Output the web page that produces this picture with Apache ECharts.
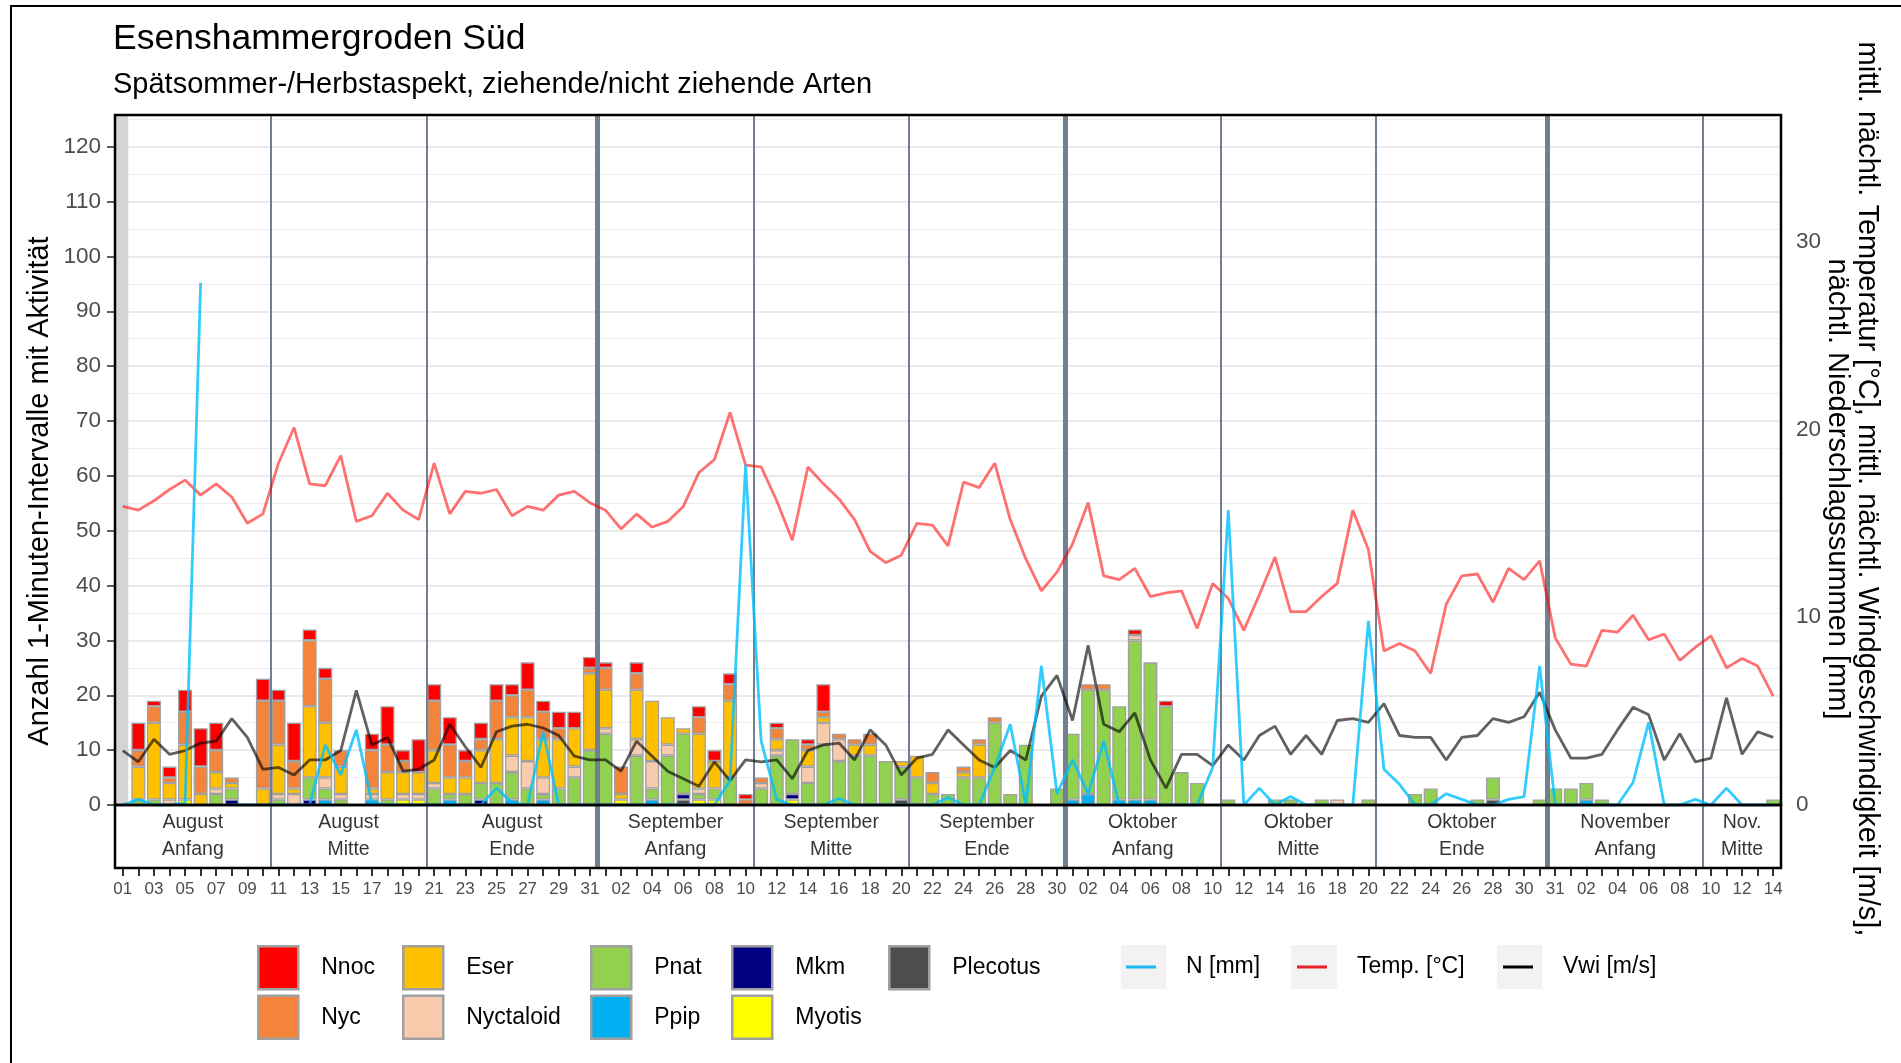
<!DOCTYPE html>
<html>
<head>
<meta charset="utf-8">
<title>Esenshammergroden Süd</title>
<script src="https://cdn.jsdelivr.net/npm/echarts@6/dist/echarts.min.js"></script>
<style>
  html, body { margin: 0; padding: 0; background: #fff; }
  #chart { width: 1901px; height: 1063px; }
</style>
</head>
<body>
<div id="chart"></div>
<script>
// Nights 1 Aug – 15 Nov; after the DST switch the day labels run one day behind
const dayLabels = [
  '01','02','03','04','05','06','07','08','09','10','11','12','13','14','15','16','17','18','19','20','21','22','23','24','25','26','27','28','29','30','31',
  '01','02','03','04','05','06','07','08','09','10','11','12','13','14','15','16','17','18','19','20','21','22','23','24','25','26','27','28','29','30',
  '01','02','03','04','05','06','07','08','09','10','11','12','13','14','15','16','17','18','19','20','21','22','23','24','25','26','27','28','29','30','31',
  '31','01','02','03','04','05','06','07','08','09','10','11','12','13','14'
];

// Ten-day periods shown in the strip under the plot
const periodNames = ['August\nAnfang','August\nMitte','August\nEnde','September\nAnfang','September\nMitte','September\nEnde',
                     'Oktober\nAnfang','Oktober\nMitte','Oktober\nEnde','November\nAnfang','Nov.\nMitte'];
const periodBreaks = [-0.5, 9.5, 19.5, 30.5, 40.5, 50.5, 60.5, 70.5, 80.5, 91.5, 101.5, 106.5];
const monthBreaks = [30.5, 60.5, 91.5];
const recordingStart = 0.35;   // grey block: detector not yet running

// Axis ticks
const countTicksMax = 120;
const weatherTicksMax = 30;

// Activity: number of 1-minute intervals per night and species group
const nnoc = [
  0,5,1,2,4,7,5,0,0,4,
  2,7,2,2,0,0,3,7,2,6,
  3,5,2,3,3,2,5,2,3,3,
  2,1,0,2,0,0,0,2,2,2,
  1,0,1,0,1,5,0,0,0,0,
  0,0,0,0,0,0,0,0,0,0,
  0,0,0,0,0,1,0,1,0,0,
  0,0,0,0,0,0,0,0,0,0,
  0,0,0,0,0,0,0,0,0,0,
  0,0,0,0,0,0,0,0,0,0,
  0,0,0,0,0,0,0];
const nyc = [
  0,3,3,1,6,5,4,1,0,16,
  8,5,12,8,3,0,7,5,2,0,
  9,6,3,2,7,4,5,5,2,0,
  1,4,5,3,0,0,0,3,0,3,
  1,1,2,0,1,1,1,1,2,0,
  0,0,2,0,1,1,1,0,0,0,
  0,0,1,1,0,0,0,0,0,0,
  0,0,0,0,0,0,0,0,0,0,
  0,0,0,0,0,0,0,0,0,0,
  0,0,0,0,0,0,0,0,0,0,
  0,0,0,0,0,0,0];
const eser = [
  0,6,14,3,10,2,3,1,0,3,
  9,1,13,10,5,0,1,5,4,4,
  6,3,3,6,8,7,8,7,9,7,
  14,7,1,9,11,5,1,10,5,14,
  0,0,2,0,3,1,0,2,2,0,
  1,4,2,0,1,6,0,0,0,0,
  0,0,0,0,0,0,0,0,0,0,
  0,0,0,0,0,0,0,0,0,0,
  0,0,0,0,0,0,0,0,0,0,
  0,0,0,0,0,0,0,0,0,0,
  0,0,0,0,0,0,0];
const nyctaloid = [
  0,0,0,1,0,0,1,0,0,0,
  1,2,0,2,1,0,1,0,1,1,
  1,0,0,0,0,3,5,3,0,2,
  0,1,0,3,5,2,0,1,0,0,
  0,1,1,0,3,4,4,0,0,0,
  0,0,0,0,0,0,0,0,0,0,
  0,0,0,0,0,1,0,0,0,0,
  0,0,0,0,0,0,0,0,1,0,
  0,0,0,0,0,0,0,0,0,0,
  0,0,0,0,0,0,0,0,0,0,
  0,0,0,0,0,0,0];
const pnat = [
  0,1,1,0,0,0,2,2,0,0,
  1,0,4,2,1,0,0,1,0,0,
  3,1,2,3,4,5,3,1,3,5,
  10,13,0,9,2,9,11,1,2,5,
  0,3,9,10,4,11,8,9,9,8,
  6,5,2,2,5,5,15,2,11,0,
  3,12,19,21,17,29,25,18,6,4,
  0,1,0,0,1,1,0,1,0,0,
  1,0,0,2,3,0,0,1,4,0,
  0,1,3,3,3,1,0,0,0,0,
  0,0,0,0,0,0,1];
const ppip = [
  0,0,0,0,0,0,0,0,0,0,
  0,0,0,1,0,0,1,0,0,0,
  0,1,0,0,0,1,0,1,0,0,
  0,0,0,0,1,0,0,0,0,0,
  0,0,0,0,0,0,0,0,0,0,
  0,0,0,0,0,0,0,0,0,0,
  0,1,2,0,1,1,1,0,0,0,
  0,0,0,0,0,0,0,0,0,0,
  0,0,0,0,0,0,0,0,0,0,
  0,0,0,0,1,0,0,0,0,0,
  0,0,0,0,0,0,0];
const mkm = [
  0,0,0,0,0,0,0,1,0,0,
  0,0,1,0,0,0,0,0,0,0,
  0,0,0,1,0,0,0,0,0,0,
  0,0,0,0,0,0,1,0,0,0,
  0,0,0,1,0,0,0,0,0,0,
  0,0,0,0,0,0,0,0,0,0,
  0,0,0,0,0,0,0,0,0,0,
  0,0,0,0,0,0,0,0,0,0,
  0,0,0,0,0,0,0,0,0,0,
  0,0,0,0,0,0,0,0,0,0,
  0,0,0,0,0,0,0];
const myotis = [
  0,0,0,0,1,0,0,0,0,0,
  0,0,0,0,0,0,0,0,1,1,
  0,0,0,0,0,0,0,0,0,0,
  0,0,1,0,0,0,0,1,1,0,
  0,0,0,1,0,0,0,0,0,0,
  0,0,0,0,0,0,0,0,0,0,
  0,0,0,0,0,0,0,0,0,0,
  0,0,0,0,0,0,0,0,0,0,
  0,0,0,0,0,0,0,0,0,0,
  0,0,0,0,0,0,0,0,0,0,
  0,0,0,0,0,0,0];
const plecotus = [
  0,0,0,0,0,0,0,0,0,0,
  0,0,0,0,0,0,0,0,0,0,
  0,0,0,0,0,0,0,0,0,0,
  0,0,0,0,0,0,1,0,0,0,
  0,0,0,0,0,0,0,0,0,0,
  1,0,0,0,0,0,0,0,0,0,
  0,0,0,0,0,0,0,0,0,0,
  0,0,0,0,0,0,0,0,0,0,
  0,0,0,0,0,0,0,0,1,0,
  0,0,0,0,0,0,0,0,0,0,
  0,0,0,0,0,0,0];

// Weather per night (right axis)
const tempC = [
  15.9,15.7,16.2,16.8,17.3,16.5,17.1,16.4,15.0,15.5,
  18.2,20.1,17.1,17.0,18.6,15.1,15.4,16.6,15.7,15.2,
  18.2,15.5,16.7,16.6,16.8,15.4,15.9,15.7,16.5,16.7,
  16.1,15.7,14.7,15.5,14.8,15.1,15.9,17.7,18.4,20.9,
  18.1,18.0,16.2,14.1,18.0,17.1,16.3,15.2,13.5,12.9,
  13.3,15.0,14.9,13.8,17.2,16.9,18.2,15.2,13.1,11.4,
  12.4,13.9,16.1,12.2,12.0,12.6,11.1,11.3,11.4,9.4,
  11.8,11.0,9.3,11.2,13.2,10.3,10.3,11.1,11.8,15.7,
  13.6,8.2,8.6,8.2,7.0,10.7,12.2,12.3,10.8,12.6,
  12.0,13.0,8.9,7.5,7.4,9.3,9.2,10.1,8.8,9.1,
  7.7,8.4,9.0,7.3,7.8,7.4,5.8];
const windMs = [
  2.9,2.3,3.5,2.7,2.9,3.3,3.4,4.6,3.6,1.9,
  2.0,1.6,2.4,2.4,2.9,6.1,3.2,3.6,1.8,1.9,
  2.4,4.3,3.1,2.0,3.9,4.2,4.3,4.1,3.7,2.6,
  2.4,2.4,1.8,3.4,2.6,1.8,1.4,1.0,2.3,1.3,
  2.4,2.3,2.4,1.4,2.9,3.2,3.3,2.4,4.0,3.2,
  1.6,2.5,2.7,4.0,3.2,2.4,2.0,2.9,2.4,5.8,
  6.9,4.5,8.5,4.3,3.9,4.9,2.4,0.9,2.7,2.7,
  2.1,3.2,2.4,3.7,4.2,2.7,3.7,2.7,4.5,4.6,
  4.4,5.4,3.7,3.6,3.6,2.4,3.6,3.7,4.6,4.4,
  4.7,6.0,4.0,2.5,2.5,2.7,4.0,5.2,4.8,2.4,
  3.8,2.3,2.5,5.7,2.7,3.9,3.6];
const rainMm = [
  0,0.3,0,0,0.1,27.8,null,0,0,0,
  0,0,0,3.2,1.6,4.0,0.1,0,0,0,
  0,0,0,0,0.9,0.1,0,3.9,0,0,
  0,0,0,0,0,0,0,0,0,1.3,
  18.1,3.4,0.3,0,0,0,0.35,0,0,0,
  0,0,0,0.4,0,0,2.0,4.3,0,7.4,
  0.6,2.4,0.6,3.4,0,0,0,0,0,0,
  2.0,15.7,0,0.9,0,0.45,0,0,0,0,
  9.8,1.9,1.1,0,0,0.6,0.3,0,0,0.3,
  0.45,7.4,0,0,0,0,0,1.2,4.4,0,
  0,0.3,0,0.9,0,0,0];

// ---- layout & style ----
const FONT = '"Liberation Sans", Arial, Helvetica, sans-serif';
const PLOT_LEFT = 115, PLOT_RIGHT_GAP = 120, PLOT_TOP = 115, ZERO_Y = 805, STRIP_BOTTOM = 868;
const PX_PER_COUNT = 5.486, PX_PER_WEATHER_UNIT = 18.78;
const LEFT_MAX = (ZERO_Y - PLOT_TOP) / PX_PER_COUNT;
const RIGHT_MAX = (ZERO_Y - PLOT_TOP) / PX_PER_WEATHER_UNIT;
const BORDER_GREY = '#A0A0A0';
const SEPARATOR = '#708090';
const TICK_STYLE = { color: '#333', width: 1.6 };
const TICK_LABEL = { fontSize: 22.5, color: '#4D4D4D', fontFamily: FONT };

// stack order, bottom to top
const speciesStack = [
  ['Plecotus', plecotus, '#4D4D4D'],
  ['Myotis', myotis, '#FFFF00'],
  ['Mkm', mkm, '#000080'],
  ['Ppip', ppip, '#00B0F0'],
  ['Pnat', pnat, '#92D050'],
  ['Nyctaloid', nyctaloid, '#F8CBAD'],
  ['Eser', eser, '#FFC000'],
  ['Nyc', nyc, '#F3843A'],
  ['Nnoc', nnoc, '#FF0000']
];

const separatorLines = periodBreaks.slice(1, -1).map(b => ({
  xAxis: b,
  lineStyle: { color: SEPARATOR, width: monthBreaks.includes(b) ? 5 : 2, type: 'solid', opacity: 1 }
}));

const barSeries = speciesStack.map(([name, vals, color]) => ({
  name, type: 'bar', xAxisIndex: 0, yAxisIndex: 0, stack: 'bats',
  barWidth: 14, z: 2, silent: true,
  data: vals.map(v => (v === 0 ? null : v)),
  itemStyle: { color, borderColor: BORDER_GREY, borderWidth: 1.3 }
}));

function weatherLine(name, data, lineColor, keyColor) {
  return {
    name, type: 'line', xAxisIndex: 0, yAxisIndex: 1, data,
    symbol: 'none', z: 4, silent: true,
    lineStyle: { color: lineColor, width: 2.8 },
    itemStyle: { color: keyColor }
  };
}

const barLegend = (left, names) => ({
  left, top: 945, orient: 'vertical', padding: 0, itemGap: 4,
  itemWidth: 40, itemHeight: 43, icon: 'rect', selectedMode: false,
  itemStyle: { borderColor: BORDER_GREY, borderWidth: 2.5 },
  textStyle: { fontFamily: FONT, fontSize: 23, color: '#000', padding: [0, 0, 0, 18] },
  data: names
});
const lineLegend = (left, name) => ({
  left, top: 952, orient: 'horizontal', padding: 0,
  itemWidth: 36, itemHeight: 3, icon: 'path://M0,0H10V1H0Z', selectedMode: false,
  textStyle: { fontFamily: FONT, fontSize: 23, color: '#000', lineHeight: 30, padding: [0, 0, 0, 22] },
  data: [name]
});

const option = {
  animation: false,
  textStyle: { fontFamily: FONT },
  grid: [
    // plot panel
    { left: PLOT_LEFT, right: PLOT_RIGHT_GAP, top: PLOT_TOP, height: ZERO_Y - PLOT_TOP,
      show: true, z: 10, backgroundColor: 'transparent', borderColor: '#000', borderWidth: 2.5 },
    // period strip
    { left: PLOT_LEFT, right: PLOT_RIGHT_GAP, top: ZERO_Y, height: STRIP_BOTTOM - ZERO_Y,
      show: true, z: 10, backgroundColor: 'transparent', borderColor: '#000', borderWidth: 2.5 },
    // tick ranges of the two value axes
    { left: PLOT_LEFT, right: PLOT_RIGHT_GAP, top: ZERO_Y - countTicksMax * PX_PER_COUNT,
      height: countTicksMax * PX_PER_COUNT, show: false },
    { left: PLOT_LEFT, right: PLOT_RIGHT_GAP, top: ZERO_Y - weatherTicksMax * PX_PER_WEATHER_UNIT,
      height: weatherTicksMax * PX_PER_WEATHER_UNIT, show: false }
  ],
  xAxis: [
    { type: 'category', gridIndex: 0, data: dayLabels, boundaryGap: true, show: false },
    { type: 'value', gridIndex: 0, min: -0.5, max: 106.5, show: false },
    { type: 'category', gridIndex: 1, data: dayLabels, boundaryGap: true, position: 'bottom',
      axisLine: { show: false },
      axisTick: { show: true, interval: 0, alignWithLabel: true, length: 8, lineStyle: { color: '#333', width: 2 } },
      axisLabel: { interval: 1, fontSize: 17, color: '#4D4D4D', margin: 13, fontFamily: FONT },
      splitLine: { show: false } },
    { type: 'value', gridIndex: 1, min: -0.5, max: 106.5, show: false },
    { type: 'value', gridIndex: 2, min: 0, max: 1, show: false },
    { type: 'value', gridIndex: 3, min: 0, max: 1, show: false }
  ],
  yAxis: [
    // counts (data scale, major grid)
    { type: 'value', gridIndex: 0, position: 'left', min: 0, max: LEFT_MAX, interval: 10,
      axisLine: { show: false }, axisTick: { show: false }, axisLabel: { show: false },
      splitLine: { show: true, lineStyle: { color: '#E3E3E3', width: 1.6 } } },
    // weather (data scale)
    { type: 'value', gridIndex: 0, position: 'right', min: 0, max: RIGHT_MAX, show: false },
    // minor grid
    { type: 'value', gridIndex: 0, position: 'left', min: 0, max: LEFT_MAX, interval: 5,
      axisLine: { show: false }, axisTick: { show: false }, axisLabel: { show: false },
      splitLine: { show: true, lineStyle: { color: ['rgba(0,0,0,0)', '#EDEDED'], width: 1 } } },
    // strip
    { type: 'value', gridIndex: 1, min: 0, max: 1, show: false },
    // left tick labels
    { type: 'value', gridIndex: 2, position: 'left', min: 0, max: countTicksMax, interval: 10,
      axisLine: { show: false },
      axisTick: { show: true, length: 8, lineStyle: TICK_STYLE },
      axisLabel: Object.assign({ margin: 14 }, TICK_LABEL),
      splitLine: { show: false } },
    // right tick labels
    { type: 'value', gridIndex: 3, position: 'right', min: 0, max: weatherTicksMax, interval: 10,
      axisLine: { show: false },
      axisTick: { show: true, length: 8, lineStyle: TICK_STYLE },
      axisLabel: Object.assign({ margin: 15 }, TICK_LABEL),
      splitLine: { show: false } }
  ],
  legend: [
    barLegend(257, ['Nnoc', 'Nyc']),
    barLegend(402, ['Eser', 'Nyctaloid']),
    barLegend(590, ['Pnat', 'Ppip']),
    barLegend(731, ['Mkm', 'Myotis']),
    barLegend(888, ['Plecotus']),
    lineLegend(1126, 'N [mm]'),
    lineLegend(1297, 'Temp. [°C]'),
    lineLegend(1503, 'Vwi [m/s]')
  ],
  series: [
    // grey start block and period separators in the plot panel
    { type: 'line', name: 'frame', xAxisIndex: 1, yAxisIndex: 0, data: [], silent: true,
      markArea: { silent: true, z: 1, itemStyle: { color: '#D4D4D4' },
                  data: [[{ xAxis: -0.5, yAxis: 0 }, { xAxis: recordingStart, yAxis: LEFT_MAX }]] },
      markLine: { silent: true, symbol: 'none', z: 3, label: { show: false }, data: separatorLines } },
    ...barSeries,
    weatherLine('Temp. [°C]', tempC, 'rgba(255,0,0,0.56)', '#E8202A'),
    weatherLine('Vwi [m/s]', windMs, 'rgba(0,0,0,0.62)', '#000000'),
    weatherLine('N [mm]', rainMm, 'rgba(0,191,255,0.8)', '#1FB8F2'),
    // period strip below the plot
    { type: 'scatter', name: 'periods', xAxisIndex: 3, yAxisIndex: 3, silent: true, symbolSize: 0,
      data: periodNames.map((n, k) => ({ name: n, value: [(periodBreaks[k] + periodBreaks[k + 1]) / 2, 0.5] })),
      label: { show: true, position: 'inside', formatter: '{b}', fontSize: 19.5, lineHeight: 27,
               color: '#000', fontFamily: FONT },
      markLine: { silent: true, symbol: 'none', z: 3, label: { show: false }, data: separatorLines } }
  ],
  graphic: [
    { type: 'rect', silent: true, z: 20, shape: { x: 11, y: 6, width: 2000, height: 2000 },
      style: { fill: 'none', stroke: '#000', lineWidth: 2 } },
    { type: 'text', silent: true, x: 113, y: 39.5, style: { text: 'Esenshammergroden Süd',
      font: '35.5px ' + FONT, fill: '#000', verticalAlign: 'middle' } },
    { type: 'text', silent: true, x: 113, y: 84.5, style: { text: 'Spätsommer-/Herbstaspekt, ziehende/nicht ziehende Arten',
      font: '29px ' + FONT, fill: '#000', verticalAlign: 'middle' } },
    { type: 'text', silent: true, x: 40, y: 491, rotation: Math.PI / 2,
      style: { text: 'Anzahl 1-Minuten-Intervalle mit Aktivität', font: '29px ' + FONT, fill: '#000',
               align: 'center', verticalAlign: 'middle' } },
    { type: 'text', silent: true, x: 1852, y: 489, rotation: -Math.PI / 2,
      style: { text: 'mittl. nächtl. Temperatur [°C], mittl. nächtl. Windgeschwindigkeit [m/s],\nnächtl. Niederschlagssummen [mm]',
               font: '29px ' + FONT, lineHeight: 30, fill: '#000', align: 'center', verticalAlign: 'middle' } },
    // grey key backgrounds for the weather lines
    { type: 'rect', silent: true, z: 0, shape: { x: 1121, y: 945, width: 45, height: 44 }, style: { fill: '#F2F2F2' } },
    { type: 'rect', silent: true, z: 0, shape: { x: 1291, y: 945, width: 46, height: 44 }, style: { fill: '#F2F2F2' } },
    { type: 'rect', silent: true, z: 0, shape: { x: 1497, y: 945, width: 45, height: 44 }, style: { fill: '#F2F2F2' } }
  ]
};

const chart = echarts.init(document.getElementById('chart'), null, { renderer: 'canvas' });
chart.setOption(option);
</script>
</body>
</html>
